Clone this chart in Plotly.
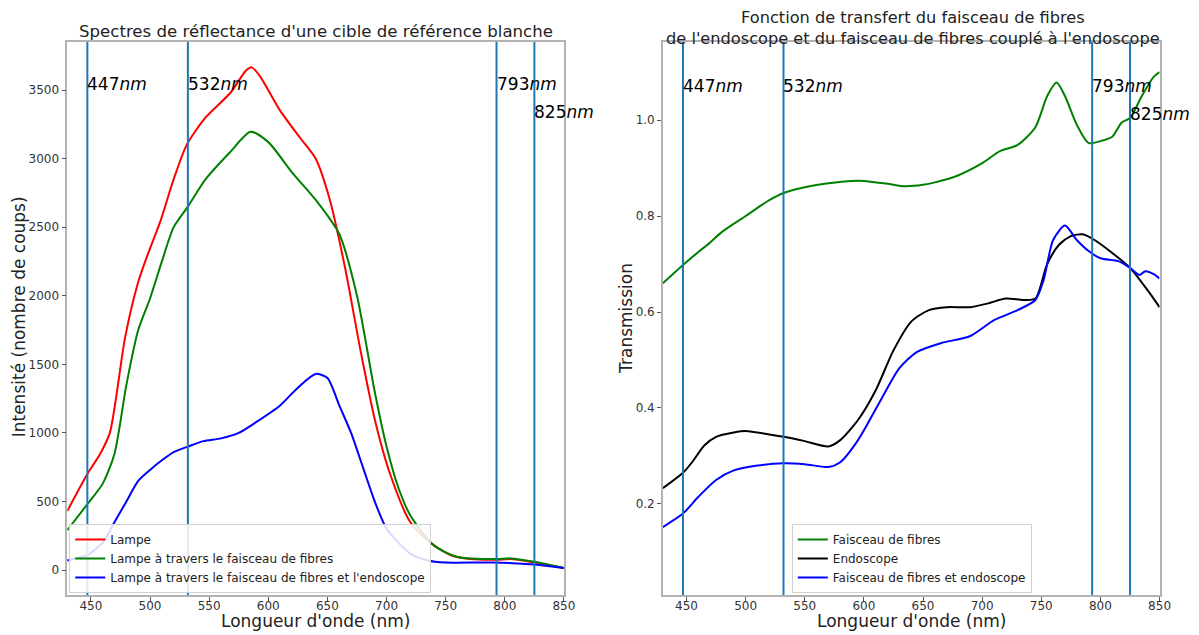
import plotly.graph_objects as go

# ---------------- Left panel data ----------------
wl_lampe = [430, 447, 458, 466, 479, 490, 498, 509, 520, 531, 547, 568, 581, 586, 593, 610, 627, 640, 652, 665, 678, 690, 703, 720, 737, 754, 771, 793, 805, 825, 850]
lampe = [430, 700, 850, 1000, 1700, 2100, 2300, 2550, 2850, 3100, 3300, 3480, 3640, 3665, 3600, 3350, 3150, 3000, 2700, 2200, 1600, 1100, 700, 350, 200, 110, 80, 75, 80, 55, 15]

wl_fib = [430, 447, 460, 470, 480, 490, 500, 510, 520, 532, 547, 568, 585, 600, 620, 640, 660, 675, 690, 700, 710, 720, 740, 760, 793, 805, 825, 850]
lampe_fib = [290, 480, 630, 850, 1350, 1750, 1980, 2250, 2500, 2650, 2850, 3050, 3195, 3120, 2900, 2700, 2450, 2000, 1300, 900, 600, 400, 180, 95, 80, 85, 60, 15]

wl_endo = [430, 447, 460, 470, 480, 490, 500, 510, 520, 532, 545, 560, 575, 590, 610, 625, 640, 650, 660, 670, 680, 690, 700, 710, 720, 735, 750, 790, 825, 850]
lampe_fib_endo = [70, 110, 200, 350, 500, 650, 730, 800, 860, 900, 940, 960, 1000, 1080, 1200, 1330, 1430, 1400, 1200, 1000, 750, 500, 300, 200, 120, 70, 55, 55, 40, 15]

# ---------------- Right panel data ----------------
wl_t_fib = [430, 447, 460, 470, 480, 500, 520, 532, 550, 570, 590, 600, 620, 635, 650, 660, 680, 700, 715, 730, 745, 755, 763, 770, 780, 790, 800, 810, 818, 825, 835, 845, 850]
t_fib = [0.66, 0.698, 0.725, 0.745, 0.767, 0.80, 0.833, 0.848, 0.86, 0.868, 0.873, 0.873, 0.867, 0.862, 0.865, 0.87, 0.885, 0.91, 0.935, 0.948, 0.985, 1.05, 1.078, 1.05, 0.99, 0.952, 0.956, 0.965, 0.995, 1.004, 1.05, 1.09, 1.10]

wl_t_endo = [430, 447, 455, 465, 475, 490, 500, 520, 532, 550, 570, 580, 595, 610, 625, 640, 655, 670, 690, 705, 720, 735, 745, 755, 765, 775, 785, 795, 810, 825, 840, 850]
t_endo = [0.233, 0.265, 0.288, 0.322, 0.340, 0.349, 0.352, 0.345, 0.34, 0.331, 0.32, 0.333, 0.375, 0.437, 0.52, 0.58, 0.604, 0.61, 0.61, 0.618, 0.628, 0.625, 0.628, 0.70, 0.74, 0.758, 0.762, 0.75, 0.723, 0.692, 0.645, 0.61]

wl_t_fib_endo = [430, 447, 460, 475, 490, 510, 532, 550, 570, 580, 595, 615, 630, 645, 665, 690, 710, 730, 745, 752, 760, 770, 780, 790, 800, 815, 825, 833, 838, 845, 850]
t_fib_endo = [0.152, 0.18, 0.215, 0.25, 0.27, 0.28, 0.285, 0.283, 0.277, 0.287, 0.333, 0.42, 0.483, 0.517, 0.535, 0.55, 0.583, 0.604, 0.625, 0.667, 0.75, 0.78, 0.75, 0.727, 0.712, 0.706, 0.692, 0.677, 0.685, 0.679, 0.67]

lasers = [447, 532, 793, 825]
laser_labels = ["447", "532", "793", "825"]
left_label_y = [3545, 3545, 3545, 3340]
right_label_y = [1.071, 1.071, 1.071, 1.0125]

FONT = "DejaVu Sans"
SPINE = "#b3b3b3"
TXT = "#222222"

# page placement compensation (figure is shown offset / slightly scaled in the viewer)
OFFX, SX = 7.7, 0.9914
OFFY = 8
W = 1191
H = 627


def px(x):
    return ((x - OFFX) / SX) / W


def py(y):
    return 1 - (y - OFFY) / H


fig = go.Figure()


def add(x, y, name, color, xa, ya, legend):
    fig.add_trace(go.Scatter(x=x, y=y, name=name, mode="lines",
                             line=dict(color=color, width=2, shape="spline", smoothing=0.7),
                             xaxis=xa, yaxis=ya, legend=legend))


add(wl_lampe, lampe, "Lampe", "#ff0000", "x", "y", "legend")
add(wl_fib, lampe_fib, "Lampe à travers le faisceau de fibres", "#008000", "x", "y", "legend")
add(wl_endo, lampe_fib_endo, "Lampe à travers le faisceau de fibres et l'endoscope", "#0000ff", "x", "y", "legend")

add(wl_t_fib, t_fib, "Faisceau de fibres", "#008000", "x2", "y2", "legend2")
add(wl_t_endo, t_endo, "Endoscope", "#000000", "x2", "y2", "legend2")
add(wl_t_fib_endo, t_fib_endo, "Faisceau de fibres et endoscope", "#0000ff", "x2", "y2", "legend2")

shapes = []
annots = []
for i, w in enumerate(lasers):
    for xr, yr, ly in (("x", "y", left_label_y[i]), ("x2", "y2", right_label_y[i])):
        shapes.append(dict(type="line", xref=xr, yref=yr + " domain", x0=w, x1=w, y0=0, y1=1,
                           line=dict(color="#1f77b4", width=2), layer="above"))
        annots.append(dict(x=w, y=ly, xref=xr, yref=yr, text=laser_labels[i] + "<i>nm</i>",
                           showarrow=False, xanchor="left", yanchor="middle", xshift=-2,
                           font=dict(family=FONT, size=17, color="#000000")))

TF = 16.6
# titles
annots.append(dict(x=px(315.5), y=py(31), xref="paper", yref="paper", showarrow=False,
                   text="Spectres de réflectance d'une cible de référence blanche",
                   font=dict(family=FONT, size=TF, color=TXT), xanchor="center", yanchor="middle"))
annots.append(dict(x=px(913), y=py(28), xref="paper", yref="paper", showarrow=False,
                   text="Fonction de transfert du faisceau de fibres<br>de l'endoscope et du faisceau de fibres couplé à l'endoscope",
                   font=dict(family=FONT, size=16.2, color=TXT), xanchor="center", yanchor="middle"))
# axis titles
AF = 17
annots.append(dict(x=px(315.5), y=py(621), xref="paper", yref="paper", showarrow=False,
                   text="Longueur d'onde (nm)", font=dict(family=FONT, size=AF, color=TXT),
                   xanchor="center", yanchor="middle"))
annots.append(dict(x=px(911.5), y=py(621), xref="paper", yref="paper", showarrow=False,
                   text="Longueur d'onde (nm)", font=dict(family=FONT, size=AF, color=TXT),
                   xanchor="center", yanchor="middle"))
annots.append(dict(x=px(19), y=py(317), xref="paper", yref="paper", showarrow=False, textangle=-90,
                   text="Intensité (nombre de coups)", font=dict(family=FONT, size=AF, color=TXT),
                   xanchor="center", yanchor="middle"))
annots.append(dict(x=px(626), y=py(318), xref="paper", yref="paper", showarrow=False, textangle=-90,
                   text="Transmission", font=dict(family=FONT, size=AF, color=TXT),
                   xanchor="center", yanchor="middle"))

axis_common = dict(showline=True, linecolor=SPINE, linewidth=1.5, mirror=True, ticks="outside",
                   ticklen=4, tickcolor="#555555", showgrid=False, zeroline=False,
                   tickfont=dict(family=FONT, size=12, color="#333333"))

xticks = [450, 500, 550, 600, 650, 700, 750, 800, 850]

fig.update_layout(
    width=W, height=H, margin=dict(l=0, r=0, t=0, b=0),
    paper_bgcolor="white", plot_bgcolor="white",
    font=dict(family=FONT),
    xaxis=dict(domain=[px(67), px(564)], range=[430, 850], tickvals=xticks, anchor="y",
               ticklabelstandoff=-5, **axis_common),
    yaxis=dict(domain=[py(595), py(42)], range=[-182, 3850], tickvals=[0, 500, 1000, 1500, 2000, 2500, 3000, 3500], anchor="x", **axis_common),
    xaxis2=dict(domain=[px(663), px(1160)], range=[430, 850], tickvals=xticks, anchor="y2",
                ticklabelstandoff=-5, **axis_common),
    yaxis2=dict(domain=[py(595), py(42)], range=[0.0104, 1.1625], tickvals=[0.2, 0.4, 0.6, 0.8, 1.0], ticktext=["0.2", "0.4", "0.6", "0.8", "1.0"], anchor="x2", **axis_common),
    shapes=shapes, annotations=annots,
    legend=dict(x=px(69), y=py(593), xanchor="left", yanchor="bottom", bgcolor="rgba(255,255,255,0.85)",
                bordercolor="#d0d0d0", borderwidth=1, font=dict(family=FONT, size=12, color=TXT),
                tracegroupgap=0, itemwidth=30),
    legend2=dict(x=px(792), y=py(593), xanchor="left", yanchor="bottom", bgcolor="rgba(255,255,255,0.85)",
                 bordercolor="#d0d0d0", borderwidth=1, font=dict(family=FONT, size=12, color=TXT),
                 tracegroupgap=0, itemwidth=30),
    showlegend=True,
)

fig.write_html("out.html")
